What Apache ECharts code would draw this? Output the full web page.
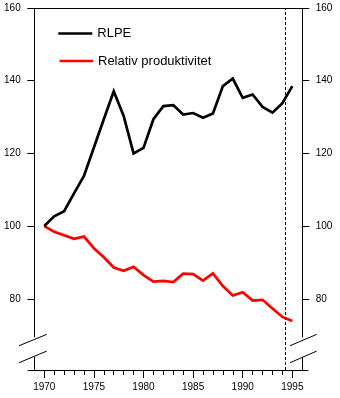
<!DOCTYPE html>
<html>
<head>
<meta charset="utf-8">
<script src="https://cdn.jsdelivr.net/npm/echarts@6/dist/echarts.min.js"></script>
<style>
  html, body { margin: 0; padding: 0; background: #fff; }
  #chart { width: 340px; height: 398px; }
</style>
</head>
<body>
<div id="chart"></div>
<script>
// Years 1970–1995
const years = [1970, 1971, 1972, 1973, 1974, 1975, 1976, 1977, 1978, 1979,
               1980, 1981, 1982, 1983, 1984, 1985, 1986, 1987, 1988, 1989,
               1990, 1991, 1992, 1993, 1994, 1995];
const rlpe = [100, 102.7, 104.1, 109, 113.8, 121.6, 129.4, 137.1, 130.3, 120,
              121.5, 129.4, 133, 133.3, 130.7, 131.1, 129.8, 131, 138.5, 140.6,
              135.3, 136.2, 132.8, 131.2, 133.8, 138.5];
const relProd = [100, 98.4, 97.5, 96.5, 97.1, 93.9, 91.4, 88.6, 87.7, 88.8,
                 86.5, 84.7, 84.9, 84.6, 86.9, 86.8, 85.0, 87.0, 83.5, 80.9,
                 81.8, 79.5, 79.7, 77.3, 75.0, 73.9];
const seriesNames = ['RLPE', 'Relativ produktivitet'];
const yTicks = [80, 100, 120, 140, 160];
const xMajorTicks = [1970, 1975, 1980, 1985, 1990, 1995];
const forecastStart = 1994.3;   // dashed divider
const yRange = [60.4, 160];
const xRange = [1968.36, 1996.58];
// axis-break markers (value positions on the y scale)
const axisGapTop = 69.4, axisGapBottom = 64.05;

const FONT = 'Liberation Sans, Arial, Helvetica, sans-serif';
const chart = echarts.init(document.getElementById('chart'), null, { renderer: 'canvas' });

const pairs = arr => years.map((y, i) => [y, arr[i]]);
const legendBase = {
  padding: 0, icon: 'rect', itemWidth: 34, itemHeight: 2.7,
  textStyle: { fontFamily: FONT, fontSize: 13, color: '#000' }
};

chart.setOption({
  animation: false,
  backgroundColor: '#fff',
  grid: [
    { left: 28, right: 32, top: 8, bottom: 28 },
    { left: 34.3, right: 37.7, top: 8, bottom: 28 }
  ],
  legend: [
    Object.assign({}, legendBase, { data: [seriesNames[0]], left: 58.3, top: 27 }),
    Object.assign({}, legendBase, { data: [seriesNames[1]], left: 59.5, top: 54.5, itemWidth: 33.5 })
  ],
  xAxis: [
    {
      gridIndex: 0, type: 'value', min: xRange[0], max: xRange[1], position: 'bottom',
      axisLine: { show: true, lineStyle: { color: '#000', width: 1 } },
      axisTick: { show: true, length: 5, customValues: years, lineStyle: { color: '#000' } },
      axisLabel: { show: true, customValues: xMajorTicks, margin: 12, color: '#000',
                   fontFamily: FONT, fontSize: 10, formatter: v => String(Math.round(v)) },
      splitLine: { show: false }
    },
    {
      gridIndex: 0, type: 'value', min: xRange[0], max: xRange[1], position: 'bottom',
      axisLine: { show: false },
      axisTick: { show: true, length: 8, customValues: xMajorTicks, lineStyle: { color: '#000' } },
      axisLabel: { show: false },
      splitLine: { show: false }
    },
    {
      gridIndex: 1, type: 'value', min: 0, max: 1, position: 'top',
      axisLine: { show: true, lineStyle: { color: '#000', width: 1 } },
      axisTick: { show: false }, axisLabel: { show: false }, splitLine: { show: false }
    }
  ],
  yAxis: [
    {
      gridIndex: 0, type: 'value', min: yRange[0], max: yRange[1], show: false
    },
    {
      gridIndex: 1, type: 'value', min: yRange[0], max: yRange[1], position: 'left',
      axisLine: { show: false },
      axisTick: { show: true, length: 7, customValues: yTicks, lineStyle: { color: '#000' } },
      axisLabel: { show: true, customValues: yTicks, margin: 13.6, color: '#000',
                   fontFamily: FONT, fontSize: 10 },
      splitLine: { show: false }
    },
    {
      gridIndex: 1, type: 'value', min: yRange[0], max: yRange[1], position: 'right',
      axisLine: { show: false },
      axisTick: { show: true, length: 7, customValues: yTicks, lineStyle: { color: '#000' } },
      axisLabel: { show: true, customValues: yTicks, margin: 13.4, color: '#000',
                   fontFamily: FONT, fontSize: 10 },
      splitLine: { show: false }
    }
  ],
  series: [
    {
      name: seriesNames[0], type: 'line', xAxisIndex: 0, yAxisIndex: 0,
      data: pairs(rlpe), symbol: 'none', showSymbol: false,
      lineStyle: { color: '#000', width: 2.7, join: 'miter' }, itemStyle: { color: '#000' },
      z: 3,
      markLine: {
        silent: true, symbol: 'none', label: { show: false },
        lineStyle: { color: '#000', width: 1, type: [3, 2] },
        data: [{ xAxis: forecastStart }]
      }
    },
    {
      name: seriesNames[1], type: 'line', xAxisIndex: 0, yAxisIndex: 0,
      data: pairs(relProd), symbol: 'none', showSymbol: false,
      lineStyle: { color: '#ff0000', width: 2.7, join: 'miter' }, itemStyle: { color: '#ff0000' },
      z: 2
    }
  ]
});

// Broken vertical axis lines with the "//" break markers on both sides
function drawAxisFrame() {
  const yPx = v => chart.convertToPixel({ yAxisIndex: 1 }, v);
  const leftX = chart.convertToPixel({ xAxisIndex: 2 }, 0);
  const rightX = chart.convertToPixel({ xAxisIndex: 2 }, 1);
  const yTop = yPx(yRange[1]), yBottom = yPx(yRange[0]);
  const gapA = yPx(axisGapTop), gapB = yPx(axisGapBottom);
  const stroke = { stroke: '#000', lineWidth: 1 };
  const els = [];
  [leftX, rightX].forEach((x, side) => {
    const xs = Math.round(x) + 0.5;
    els.push({ type: 'line', shape: { x1: xs, y1: yTop, x2: xs, y2: gapA }, style: stroke });
    els.push({ type: 'line', shape: { x1: xs, y1: gapB, x2: xs, y2: yBottom }, style: stroke });
    const x1 = side === 0 ? x - 15.3 : x - 12.3;
    const x2 = side === 0 ? x + 12.4 : x + 14.4;
    els.push({ type: 'line', shape: { x1: x1, y1: yPx(67.07), x2: x2, y2: yPx(70.2) }, style: stroke });
    els.push({ type: 'line', shape: { x1: x1, y1: yPx(62.4), x2: x2, y2: yPx(65.6) }, style: stroke });
  });
  chart.setOption({ graphic: { elements: els } });
}
drawAxisFrame();
</script>
</body>
</html>
